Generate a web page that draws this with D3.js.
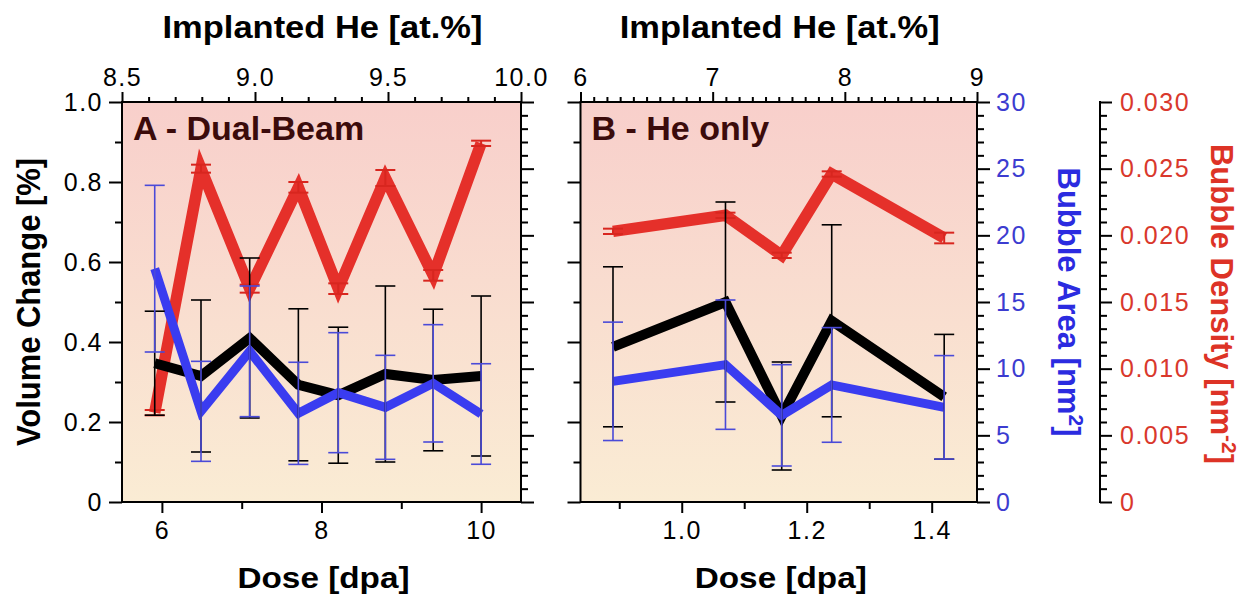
<!DOCTYPE html>
<html>
<head>
<meta charset="utf-8">
<script src="https://cdn.jsdelivr.net/npm/d3@7"></script>
<style>
  html, body { margin: 0; padding: 0; background: #fff; }
  svg { display: block; }
  text { font-family: "Liberation Sans", Arial, Helvetica, sans-serif; }
</style>
</head>
<body>
<svg id="chart" width="1253" height="601"></svg>
<script>
// ---------------- DATA ----------------
// Panel A - Dual-Beam
const doseA    = [5.91, 6.49, 7.10, 7.71, 8.21, 8.80, 9.40, 10.0];
const volA     = [0.347, 0.315, 0.41, 0.293, 0.267, 0.32, 0.305, 0.315];
const volErrA  = [0.13, 0.19, 0.20, 0.19, 0.17, 0.22, 0.177, 0.20];
const areaA    = [17.5, 6.8, 11.3, 6.65, 8.2, 7.1, 8.9, 6.6];
const areaErrA = [6.25, 3.75, 4.9, 3.83, 4.5, 3.9, 4.4, 3.77];
const densA    = [0.0067, 0.0250, 0.0160, 0.0236, 0.0160, 0.0243, 0.0170, 0.0269];
const densErrA = [0.0002, 0.0003, 0.0003, 0.0004, 0.0004, 0.0006, 0.0004, 0.0002];

// Panel B - He only
const doseB    = [0.89, 1.07, 1.16, 1.24, 1.42];
const volB     = [0.388, 0.50, 0.215, 0.453, 0.263];
const volErrB  = [0.20, 0.25, 0.135, 0.24, 0.156];
const areaB    = [9.05, 10.3, 6.5, 8.78, 7.1];
const areaErrB = [4.44, 4.85, 3.8, 4.3, 3.88];
const densB    = [0.0203, 0.0215, 0.0185, 0.0246, 0.0198];
const densErrB = [0.0002, 0.0002, 0.0002, 0.0002, 0.0004];

// Tick values / labels
const volTicks     = [0, 0.2, 0.4, 0.6, 0.8, 1.0];
const volLabels    = ["0", "0.2", "0.4", "0.6", "0.8", "1.0"];
const areaTicks    = [0, 5, 10, 15, 20, 25, 30];
const densTicks    = [0, 0.005, 0.010, 0.015, 0.020, 0.025, 0.030];
const densLabels   = ["0", "0.005", "0.010", "0.015", "0.020", "0.025", "0.030"];
const heTicksA     = [8.5, 9.0, 9.5, 10.0];
const heLabelsA    = ["8.5", "9.0", "9.5", "10.0"];
const heTicksB     = [6, 7, 8, 9];
const doseTicksA   = [6, 8, 10];
const doseMinorA   = [7, 9];
const doseTicksB   = [1.0, 1.2, 1.4];
const doseLabelsB  = ["1.0", "1.2", "1.4"];
const doseMinorB   = [0.9, 1.1, 1.3];

// ---------------- LAYOUT ----------------
const yTop = 102, yBot = 502;
const pA = {x0: 122, x1: 521};
const pB = {x0: 580.5, x1: 977};
const densAxisX = 1100;

const RED = "#e5302a", BLUE = "#3a3cf0", BLUE_ERR = "#4a4ad8";
const BLUE_TXT = "#3c3cd0", RED_TXT = "#d9382c";

const svg = d3.select("#chart");

const defs = svg.append("defs");
const grad = defs.append("linearGradient").attr("id", "bg")
  .attr("x1", 0).attr("y1", 0).attr("x2", 0).attr("y2", 1);
grad.append("stop").attr("offset", "0%").attr("stop-color", "#f8cfcb");
grad.append("stop").attr("offset", "100%").attr("stop-color", "#faecd4");

const yVol  = d3.scaleLinear([0, 1], [yBot, yTop]);
const yArea = d3.scaleLinear([0, 30], [yBot, yTop]);
const yDens = d3.scaleLinear([0, 0.03], [yBot, yTop]);

const xA  = d3.scaleLinear([5.5, 10.5], [pA.x0, pA.x1]);
const heA = d3.scaleLinear([8.5, 10.0], [pA.x0, pA.x1]);
const xB  = d3.scaleLinear([0.838, 1.4725], [pB.x0, pB.x1]);
const heB = d3.scaleLinear([6, 9], [pB.x0, pB.x1]);

function range(a, b, step) {
  const out = [];
  const n = Math.round((b - a) / step);
  for (let i = 0; i <= n; i++) out.push(+(a + i * step).toFixed(6));
  return out;
}

function styleAxis(g, fontSize, color) {
  g.select(".domain").remove();
  g.selectAll(".tick line").attr("stroke", "#000").attr("stroke-width", 2);
  g.selectAll(".tick text")
    .attr("font-size", fontSize)
    .attr("letter-spacing", "1.5px")
    .attr("fill", color || "#000");
}

function panel(p, xDose, xHe, opts) {
  const g = svg.append("g");
  // background
  g.append("rect")
    .attr("x", p.x0).attr("y", yTop)
    .attr("width", p.x1 - p.x0).attr("height", yBot - yTop)
    .attr("fill", "url(#bg)");

  // left axis (volume change)
  const la = g.append("g").attr("transform", `translate(${p.x0},0)`);
  la.call(d3.axisLeft(yVol).tickValues(volTicks).tickSize(13).tickPadding(6)
    .tickFormat((d, i) => opts.leftLabels ? volLabels[i] : ""));
  styleAxis(la, 25);
  const lam = g.append("g").attr("transform", `translate(${p.x0},0)`);
  lam.call(d3.axisLeft(yVol).tickValues(range(0.1, 0.9, 0.2)).tickSize(7).tickFormat(""));
  styleAxis(lam, 25);

  // right axis (bubble area)
  const ra = g.append("g").attr("transform", `translate(${p.x1},0)`);
  ra.call(d3.axisRight(yArea).tickValues(areaTicks).tickSize(13).tickPadding(6)
    .tickFormat(d => opts.rightLabels ? String(d) : ""));
  styleAxis(ra, 25, BLUE_TXT);
  const ram = g.append("g").attr("transform", `translate(${p.x1},0)`);
  ram.call(d3.axisRight(yArea).tickValues(range(0, 30, 1).filter(v => v % 5 !== 0))
    .tickSize(7).tickFormat(""));
  styleAxis(ram, 25);

  // top axis (implanted He)
  const ta = g.append("g").attr("transform", `translate(0,${yTop})`);
  ta.call(d3.axisTop(xHe).tickValues(opts.heTicks).tickSize(10).tickPadding(6)
    .tickFormat((d, i) => opts.heLabels[i]));
  styleAxis(ta, 25);
  const tam = g.append("g").attr("transform", `translate(0,${yTop})`);
  tam.call(d3.axisTop(xHe).tickValues(opts.heMinor).tickSize(5).tickFormat(""));
  styleAxis(tam, 25);

  // bottom axis (dose)
  const ba = g.append("g").attr("transform", `translate(0,${yBot})`);
  ba.call(d3.axisBottom(xDose).tickValues(opts.doseTicks).tickSize(11).tickPadding(8)
    .tickFormat((d, i) => opts.doseLabels[i]));
  styleAxis(ba, 25);
  const bam = g.append("g").attr("transform", `translate(0,${yBot})`);
  bam.call(d3.axisBottom(xDose).tickValues(opts.doseMinor).tickSize(7).tickFormat(""));
  styleAxis(bam, 25);

  // frame
  g.append("rect")
    .attr("x", p.x0).attr("y", yTop)
    .attr("width", p.x1 - p.x0).attr("height", yBot - yTop)
    .attr("fill", "none").attr("stroke", "#000").attr("stroke-width", 2);

  // lines
  const mk = (y, vals) => d3.line().x((d, i) => xDose(opts.dose[i])).y(d => y(d))(vals);
  g.append("path").attr("d", mk(yDens, opts.dens)).attr("fill", "none")
    .attr("stroke", RED).attr("stroke-width", 11.5).attr("stroke-linejoin", "miter").attr("stroke-miterlimit", 6);
  g.append("path").attr("d", mk(yVol, opts.vol)).attr("fill", "none")
    .attr("stroke", "#000").attr("stroke-width", 10).attr("stroke-linejoin", "miter").attr("stroke-miterlimit", 6);
  g.append("path").attr("d", mk(yArea, opts.area)).attr("fill", "none")
    .attr("stroke", BLUE).attr("stroke-width", 9).attr("stroke-linejoin", "miter").attr("stroke-miterlimit", 6);

  // error bars
  function errBars(y, vals, errs, color, w) {
    const eg = g.append("g").attr("stroke", color).attr("stroke-width", w).attr("fill", "none");
    vals.forEach((v, i) => {
      const x = xDose(opts.dose[i]);
      const y1 = y(v + errs[i]), y0 = y(v - errs[i]);
      eg.append("line").attr("x1", x).attr("x2", x).attr("y1", y1).attr("y2", y0);
      eg.append("line").attr("x1", x - 10).attr("x2", x + 10).attr("y1", y1).attr("y2", y1);
      eg.append("line").attr("x1", x - 10).attr("x2", x + 10).attr("y1", y0).attr("y2", y0);
    });
  }
  errBars(yDens, opts.dens, opts.densErr, "#d8261f", 2);
  errBars(yVol, opts.vol, opts.volErr, "#000", 1.6);
  errBars(yArea, opts.area, opts.areaErr, BLUE_ERR, 1.6);

  // panel label
  g.append("text").attr("x", p.x0 + 11).attr("y", 140)
    .attr("font-size", 34).attr("font-weight", "bold").attr("fill", "#3b0b0b")
    .text(opts.label);

  // top title
  g.append("text").attr("x", (p.x0 + p.x1) / 2 + 1).attr("y", 38)
    .attr("text-anchor", "middle").attr("font-size", 31).attr("font-weight", "bold")
    .attr("textLength", 320).attr("lengthAdjust", "spacingAndGlyphs")
    .text("Implanted He [at.%]");

  // bottom title
  g.append("text").attr("x", (p.x0 + p.x1) / 2 + 2).attr("y", 588)
    .attr("text-anchor", "middle").attr("font-size", 30).attr("font-weight", "bold")
    .attr("textLength", 172).attr("lengthAdjust", "spacingAndGlyphs")
    .text("Dose [dpa]");
}

panel(pA, xA, heA, {
  label: "A - Dual-Beam", leftLabels: true, rightLabels: false,
  dose: doseA, vol: volA, volErr: volErrA, area: areaA, areaErr: areaErrA, dens: densA, densErr: densErrA,
  heTicks: heTicksA, heLabels: heLabelsA, heMinor: range(8.6, 9.9, 0.1).filter(v => Math.abs(v * 2 - Math.round(v * 2)) > 1e-6),
  doseTicks: doseTicksA, doseLabels: doseTicksA.map(String), doseMinor: doseMinorA
});

panel(pB, xB, heB, {
  label: "B - He only", leftLabels: false, rightLabels: true,
  dose: doseB, vol: volB, volErr: volErrB, area: areaB, areaErr: areaErrB, dens: densB, densErr: densErrB,
  heTicks: heTicksB, heLabels: heTicksB.map(String), heMinor: range(6.1, 8.9, 0.1).filter(v => Math.abs(v - Math.round(v)) > 1e-6),
  doseTicks: doseTicksB, doseLabels: doseLabelsB, doseMinor: doseMinorB
});

// density axis (far right)
const da = svg.append("g").attr("transform", `translate(${densAxisX},0)`);
da.call(d3.axisRight(yDens).tickValues(densTicks).tickSize(12).tickPadding(8)
  .tickFormat((d, i) => densLabels[i]));
da.select(".domain").remove();
da.selectAll(".tick line").attr("stroke", "#000").attr("stroke-width", 2);
da.selectAll(".tick text").attr("font-size", 25).attr("letter-spacing", "1.5px").attr("fill", RED_TXT);
const dam = svg.append("g").attr("transform", `translate(${densAxisX},0)`);
dam.call(d3.axisRight(yDens).tickValues(range(0, 0.03, 0.001).filter((v, i) => i % 5 !== 0))
  .tickSize(7).tickFormat(""));
dam.select(".domain").remove();
dam.selectAll(".tick line").attr("stroke", "#000").attr("stroke-width", 2);
svg.append("line").attr("x1", densAxisX).attr("x2", densAxisX).attr("y1", yTop - 1).attr("y2", yBot + 1)
  .attr("stroke", "#000").attr("stroke-width", 2);

// axis titles
svg.append("text")
  .attr("transform", `translate(40,302) rotate(-90)`)
  .attr("text-anchor", "middle").attr("font-size", 33).attr("font-weight", "bold")
  .attr("textLength", 288).attr("lengthAdjust", "spacingAndGlyphs")
  .text("Volume Change [%]");

const bat = svg.append("text")
  .attr("transform", `translate(1058,302) rotate(90)`)
  .attr("text-anchor", "middle").attr("font-size", 31).attr("font-weight", "bold")
  .attr("fill", "#2b2be0");
bat.append("tspan").text("Bubble Area [nm");
bat.append("tspan").attr("dy", -11).attr("font-size", 21).text("2");
bat.append("tspan").attr("dy", 11).text("]");

const bdt = svg.append("text")
  .attr("transform", `translate(1211,304) rotate(90)`)
  .attr("text-anchor", "middle").attr("font-size", 31).attr("font-weight", "bold")
  .attr("fill", "#dd3326");
bdt.append("tspan").text("Bubble Density [nm");
bdt.append("tspan").attr("dy", -11).attr("font-size", 21).text("-2");
bdt.append("tspan").attr("dy", 11).text("]");
</script>
</body>
</html>
